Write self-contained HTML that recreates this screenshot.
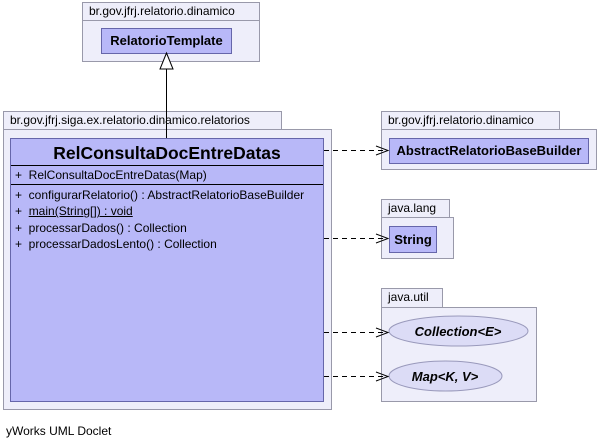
<!DOCTYPE html><html><head><style>
body{margin:0;width:599px;height:447px;background:#fff;position:relative;font-family:"Liberation Sans",sans-serif;overflow:hidden}
div{position:absolute;box-sizing:border-box}
.pk{background:#eeeefa;border:1px solid #9999aa}
.t{font-size:12px;color:#000;padding-left:6px;line-height:17px}
.c{background:#b8b8f8;border:1px solid #6666aa;font-weight:bold;font-size:13px;text-align:center}
.m{font-size:12px;left:4px;white-space:nowrap}
</style></head><body>
<div class="pk t" style="left:82px;top:2px;width:178px;height:19px">br.gov.jfrj.relatorio.dinamico</div>
<div class="pk" style="left:82px;top:20px;width:178px;height:42px"></div>
<div class="c" style="left:101px;top:28px;width:131px;height:26px;line-height:24px">RelatorioTemplate</div>

<div class="pk t" style="left:3px;top:111px;width:279px;height:19px">br.gov.jfrj.siga.ex.relatorio.dinamico.relatorios</div>
<div class="pk" style="left:3px;top:129px;width:329px;height:281px"></div>
<div class="c" style="left:10px;top:138px;width:314px;height:264px">
<div style="left:0;top:0;width:312px;height:27px;line-height:29px;font-size:17.5px;border-bottom:1px solid #000">RelConsultaDocEntreDatas</div>
<div style="left:0;top:27px;width:312px;height:19px;border-bottom:1px solid #000;font-weight:normal;text-align:left"><span class="m" style="position:absolute;top:2px">+&nbsp; RelConsultaDocEntreDatas(Map)</span></div>
<div style="left:4px;top:48px;font-weight:normal;text-align:left;font-size:12px;line-height:16.3px;white-space:nowrap">+&nbsp; configurarRelatorio() : AbstractRelatorioBaseBuilder<br>+&nbsp; <u>main(String[]) : void</u><br>+&nbsp; processarDados() : Collection<br>+&nbsp; processarDadosLento() : Collection</div>
</div>

<div class="pk t" style="left:381px;top:111px;width:179px;height:19px">br.gov.jfrj.relatorio.dinamico</div>
<div class="pk" style="left:381px;top:129px;width:216px;height:41px"></div>
<div class="c" style="left:389px;top:138px;width:200px;height:26px;line-height:24px">AbstractRelatorioBaseBuilder</div>

<div class="pk t" style="left:381px;top:199px;width:69px;height:19px">java.lang</div>
<div class="pk" style="left:381px;top:217px;width:73px;height:42px"></div>
<div class="c" style="left:389px;top:226px;width:48px;height:27px;line-height:25px">String</div>

<div class="pk t" style="left:381px;top:288px;width:62px;height:20px">java.util</div>
<div class="pk" style="left:381px;top:307px;width:156px;height:95px"></div>
<svg width="599" height="447" style="position:absolute;left:0;top:0">
<ellipse cx="458.5" cy="331" rx="69.5" ry="15" fill="#dcdcf6" stroke="#9999bb"/>
<ellipse cx="445.5" cy="376" rx="56.5" ry="15" fill="#dcdcf6" stroke="#9999bb"/>
<text x="458" y="336" font-size="13" font-weight="bold" font-style="italic" text-anchor="middle" font-family="Liberation Sans">Collection&lt;E&gt;</text>
<text x="445" y="381" font-size="13" font-weight="bold" font-style="italic" text-anchor="middle" font-family="Liberation Sans">Map&lt;K, V&gt;</text>
<line x1="166.5" y1="69" x2="166.5" y2="138" stroke="#000"/>
<polygon points="166.5,53 160,69 173,69" fill="#fff" stroke="#000"/>
<g stroke="#000" fill="none" stroke-dasharray="5,4">
<line x1="324" y1="150.5" x2="388" y2="150.5"/>
<line x1="324" y1="238.5" x2="388" y2="238.5"/>
<line x1="324" y1="332.5" x2="388" y2="332.5"/>
<line x1="324" y1="376.5" x2="388" y2="376.5"/>
</g>
<g stroke="#000" fill="none">
<polyline points="376,146 388,150.5 376,155"/>
<polyline points="376,234 388,238.5 376,243"/>
<polyline points="376,328 388,332.5 376,337"/>
<polyline points="376,372 388,376.5 376,381"/>
</g>
</svg>
<div style="left:6px;top:424px;font-size:12px">yWorks UML Doclet</div>
</body></html>
